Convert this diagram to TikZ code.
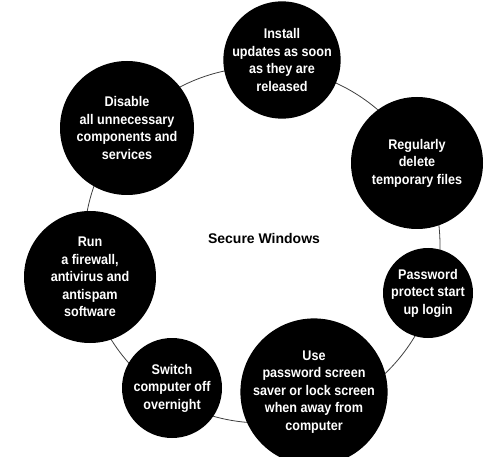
\documentclass[tikz,border=0pt]{standalone}
\usepackage{fontspec}
\setmainfont{Liberation Sans}
\newfontfamily\tipfont[FakeStretch=0.9]{Liberation Sans}

\begin{document}
\begin{tikzpicture}[x=1pt,y=-1pt,
  tip/.style={circle,fill=black,text=white,inner sep=0pt,align=center,
    font=\tipfont\bfseries\fontsize{14}{17.5}\selectfont},
  ring/.style={circle,draw=black!75,line width=0.8pt,inner sep=0pt,minimum size=356pt}]
  \useasboundingbox (0,0) rectangle (490,457);
  \node[ring] (ring) at (262,245) {};
  \node[font=\bfseries\fontsize{14}{17}\selectfont] (title) at (264,238) {Secure Windows};
  \node[tip,minimum size=114pt] (install) at (282,60)
    {Install\\updates as soon\\as they are\\released};
  \node[tip,minimum size=132pt] (regular) at (417,163)
    {Regularly\\delete\\temporary files};
  \node[tip,minimum size=90pt] (password) at (428,293)
    {Password\\protect start\\up login};
  \node[tip,minimum size=128pt] (lockscreen) at (314,392)
    {Use\\password screen\\saver or lock screen\\when away from\\computer};
  \node[tip,minimum size=100pt] (switchoff) at (172,388)
    {Switch\\computer off\\overnight};
  \node[tip,minimum size=132pt] (firewall) at (90,277)
    {Run\\a firewall,\\antivirus and\\antispam\\software};
  \node[tip,minimum size=134pt] (disable) at (127,128)
    {Disable\\all unnecessary\\components and\\services};
\end{tikzpicture}
\end{document}
